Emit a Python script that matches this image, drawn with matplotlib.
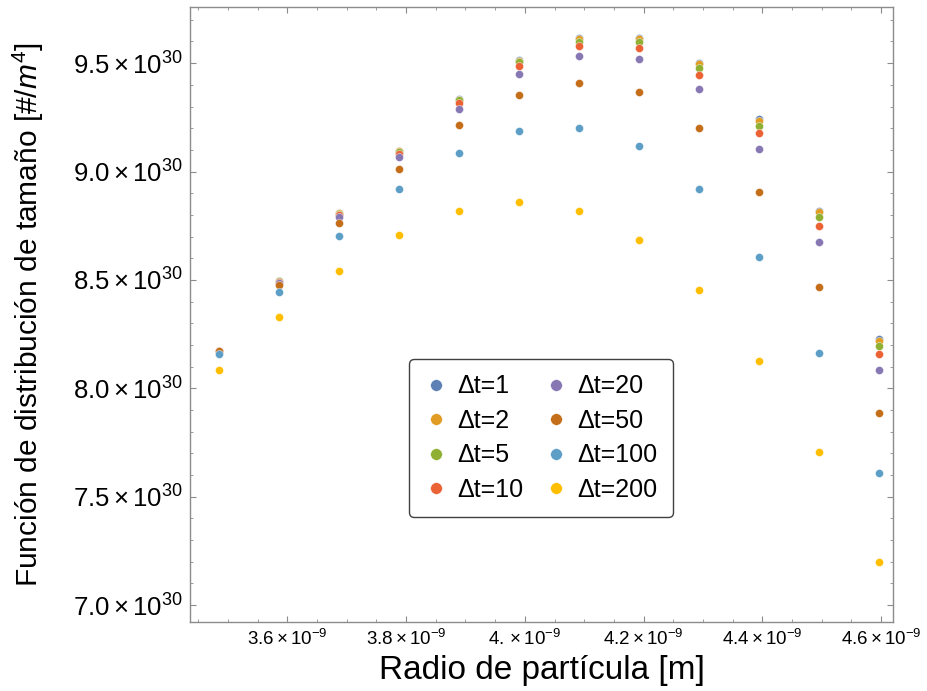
import numpy as np
import matplotlib
matplotlib.use("Agg")
import matplotlib.pyplot as plt
from matplotlib.ticker import MultipleLocator, FixedLocator, FuncFormatter

plt.rcParams['font.family'] = ['Liberation Sans', 'DejaVu Sans']
plt.rcParams['mathtext.fontset'] = 'custom'
plt.rcParams['mathtext.rm'] = 'Liberation Sans'
plt.rcParams['mathtext.it'] = 'Liberation Sans:italic'

# particle radius [m]
radius = np.array([3.485, 3.586, 3.687, 3.788, 3.889, 3.990,
                   4.091, 4.192, 4.293, 4.394, 4.495, 4.596]) * 1e-9

# size distribution function (units of 1e30 #/m^4) for each time step
dt1   = [8.171, 8.495, 8.809, 9.097, 9.336, 9.514, 9.618, 9.618, 9.501, 9.242, 8.819, 8.226]
dt2   = [8.171, 8.494, 8.808, 9.095, 9.332, 9.511, 9.612, 9.612, 9.495, 9.234, 8.812, 8.219]
dt5   = [8.171, 8.493, 8.806, 9.090, 9.328, 9.505, 9.598, 9.598, 9.477, 9.212, 8.788, 8.196]
dt10  = [8.171, 8.491, 8.801, 9.082, 9.314, 9.488, 9.578, 9.571, 9.445, 9.177, 8.749, 8.157]
dt20  = [8.170, 8.488, 8.792, 9.065, 9.289, 9.451, 9.534, 9.518, 9.380, 9.104, 8.673, 8.083]
dt50  = [8.170, 8.475, 8.761, 9.011, 9.216, 9.353, 9.409, 9.365, 9.200, 8.904, 8.466, 7.887]
dt100 = [8.159, 8.442, 8.701, 8.919, 9.087, 9.187, 9.202, 9.118, 8.921, 8.606, 8.165, 7.611]
dt200 = [8.083, 8.330, 8.540, 8.709, 8.818, 8.858, 8.816, 8.684, 8.454, 8.128, 7.706, 7.199]

series = [dt1, dt2, dt5, dt10, dt20, dt50, dt100, dt200]
labels = ["Δt=1", "Δt=2", "Δt=5", "Δt=10", "Δt=20", "Δt=50", "Δt=100", "Δt=200"]
# Mathematica default palette
colors = ["#5E81B5", "#E19C24", "#8FB032", "#EB6235",
          "#8778B3", "#C56E1A", "#5D9EC7", "#FFBF00"]

xticks = [3.6e-9, 3.8e-9, 4.0e-9, 4.2e-9, 4.4e-9, 4.6e-9]
xticklabels = [r"$3.6\times10^{-9}$", r"$3.8\times10^{-9}$", r"$4.\times10^{-9}$",
               r"$4.2\times10^{-9}$", r"$4.4\times10^{-9}$", r"$4.6\times10^{-9}$"]
yticks = [7.0e30, 7.5e30, 8.0e30, 8.5e30, 9.0e30, 9.5e30]

fig = plt.figure(figsize=(9.28, 6.91), dpi=100)
ax = fig.add_axes([190/928, 1-622/691, 703/928, 615/691])

for ys, lab, c in zip(series, labels, colors):
    ax.plot(radius, np.array(ys)*1e30, 'o', ms=5.8, color=c, mec='white', mew=0.3,
            label=lab)

ax.set_xlim(3.436e-9, 4.620e-9)
ax.set_ylim(6.922e30, 9.759e30)

ax.xaxis.set_major_locator(FixedLocator(xticks))
ax.set_xticklabels(xticklabels)
ax.xaxis.set_minor_locator(MultipleLocator(0.05e-9))
ax.yaxis.set_major_locator(FixedLocator(yticks))
ax.yaxis.set_minor_locator(MultipleLocator(0.1e30))
ax.yaxis.set_major_formatter(FuncFormatter(lambda v, p: r"$%.1f\times10^{30}$" % (v/1e30)))

for s in ax.spines.values():
    s.set_color('0.55')
    s.set_linewidth(1.0)
ax.tick_params(which='both', direction='in', top=True, right=True, colors='0.55',
               labelcolor='black')
ax.tick_params(which='major', length=4.5, width=0.8)
ax.tick_params(which='minor', length=2.5, width=0.6)
ax.tick_params(axis='x', which='major', labelsize=13.5, pad=5)
ax.tick_params(axis='y', which='major', labelsize=18.5, pad=5)

ax.set_xlabel("Radio de partícula [m]", fontsize=24, labelpad=4)
ax.set_ylabel(r"Función de distribución de tamaño [#/$m^4$]", fontsize=21.5)
ax.yaxis.set_label_coords(-0.205, 0.5)

leg = ax.legend(ncol=2, loc='center', bbox_to_anchor=(0.499, 0.299), fontsize=18,
                markerscale=1.45, handlelength=1.0, handletextpad=0.35,
                columnspacing=0.8, labelspacing=0.42, borderpad=0.6,
                frameon=True, fancybox=True)
leg.get_frame().set_edgecolor('0.25')
leg.get_frame().set_linewidth(1.0)
leg.get_frame().set_alpha(1)

fig.savefig("out.png", dpi=100)
